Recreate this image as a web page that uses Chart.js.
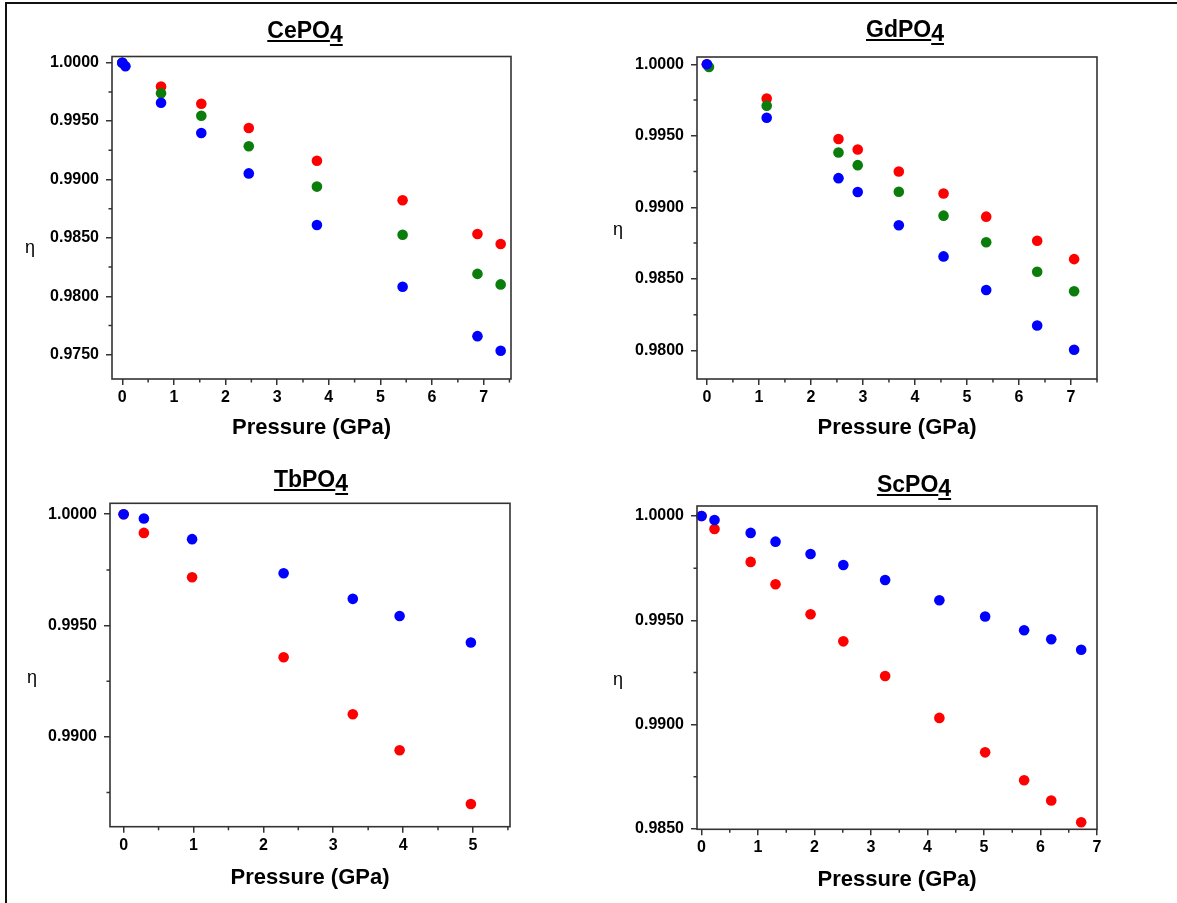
<!DOCTYPE html>
<html>
<head>
<meta charset="utf-8">
<script src="https://cdn.jsdelivr.net/npm/chart.js@4.4.1/dist/chart.umd.min.js"></script>
<style>
  body { margin: 0; background: #fff; width: 1177px; height: 903px; overflow: hidden; position: relative;
         font-family: "Liberation Sans", Arial, sans-serif; }
  .frame { position: absolute; left: 5px; top: 2px; right: -10px; bottom: -10px;
           border-top: 2px solid #111; border-left: 2px solid #111; }
  canvas { position: absolute; }
  .title { position: absolute; font-weight: bold; font-size: 23px; line-height: 1; white-space: nowrap;
           transform: translateX(-50%); color: #000; }
  .title span { text-decoration: underline; text-decoration-thickness: 2px; text-underline-offset: 2px; }
  .title .sub { position: relative; top: 4px; }
  .eta { position: absolute; font-size: 18px; transform: translate(-50%, -50%); color: #000; }
</style>
</head>
<body>
<div class="frame"></div>

<canvas id="ce" width="590" height="450" style="left:0;top:0"></canvas>
<canvas id="gd" width="587" height="450" style="left:590px;top:0"></canvas>
<canvas id="tb" width="590" height="453" style="left:0;top:450px"></canvas>
<canvas id="sc" width="587" height="453" style="left:590px;top:450px"></canvas>

<div class="title" style="left:305px;top:19px"><span>CePO</span><span class="sub">4</span></div>
<div class="title" style="left:905px;top:18px"><span>GdPO</span><span class="sub">4</span></div>
<div class="title" style="left:311px;top:468px"><span>TbPO</span><span class="sub">4</span></div>
<div class="title" style="left:914px;top:473px"><span>ScPO</span><span class="sub">4</span></div>

<div class="eta" style="left:30px;top:247px">η</div>
<div class="eta" style="left:618px;top:229px">η</div>
<div class="eta" style="left:32px;top:677px">η</div>
<div class="eta" style="left:618px;top:679px">η</div>

<script>
// CePO4
const cePressure = [0, 0.75, 1.53, 2.45, 3.77, 5.43, 6.88, 7.33];
const ceBluePressure = [0, 0.06, 0.75, 1.53, 2.45, 3.77, 5.43, 6.88, 7.33];
const ceRed   = [1.0000, 0.99796, 0.99648, 0.99441, 0.99160, 0.98822, 0.98533, 0.98448];
const ceGreen = [1.0000, 0.99739, 0.99546, 0.99285, 0.98939, 0.98527, 0.98192, 0.98102];
const ceBlue  = [1.0000, 0.99969, 0.99657, 0.99398, 0.99052, 0.98610, 0.98082, 0.97659, 0.97534];

// GdPO4
const gdPressure = [0, 1.15, 2.53, 2.90, 3.69, 4.55, 5.37, 6.35, 7.06];
const gdGreenPressure = [0.04, 1.15, 2.53, 2.90, 3.69, 4.55, 5.37, 6.35, 7.06];
const gdRed   = [1.0000, 0.99761, 0.99478, 0.99404, 0.99251, 0.99097, 0.98935, 0.98766, 0.98638];
const gdGreen = [0.99981, 0.99710, 0.99383, 0.99295, 0.99109, 0.98942, 0.98756, 0.98550, 0.98413];
const gdBlue  = [1.0000, 0.99626, 0.99204, 0.99107, 0.98875, 0.98657, 0.98422, 0.98174, 0.98005];

// TbPO4
const tbPressure = [0, 0.29, 0.98, 2.29, 3.28, 3.95, 4.97];
const tbRed  = [1.0000, 0.99916, 0.99717, 0.99358, 0.99102, 0.98940, 0.98699];
const tbBlue = [1.0000, 0.99981, 0.99888, 0.99735, 0.99620, 0.99543, 0.99424];

// ScPO4
const scPressure = [0, 0.23, 0.87, 1.31, 1.93, 2.51, 3.25, 4.21, 5.02, 5.71, 6.19, 6.72];
const scRed  = [1.0000, 0.99938, 0.99780, 0.99673, 0.99529, 0.99399, 0.99233, 0.99032, 0.98867, 0.98733, 0.98636, 0.98532];
const scBlue = [1.0000, 0.99981, 0.99919, 0.99877, 0.99818, 0.99765, 0.99693, 0.99596, 0.99518, 0.99452, 0.99409, 0.99359];

// tick labels
const xTicks7 = [0, 1, 2, 3, 4, 5, 6, 7];
const xMinor7 = [0.5, 1.5, 2.5, 3.5, 4.5, 5.5, 6.5, 7.5];
const xTicks5 = [0, 1, 2, 3, 4, 5];
const xMinor5 = [0.5, 1.5, 2.5, 3.5, 4.5, 5.5];
const ceYTicks = [0.975, 0.980, 0.985, 0.990, 0.995, 1.000];
const ceYMinor = [0.9775, 0.9825, 0.9875, 0.9925, 0.9975];
const gdYTicks = [0.980, 0.985, 0.990, 0.995, 1.000];
const gdYMinor = [0.9825, 0.9875, 0.9925, 0.9975];
const tbYTicks = [0.990, 0.995, 1.000];
const tbYMinor = [0.9875, 0.9925, 0.9975];
const scYTicks = [0.985, 0.990, 0.995, 1.000];
const scYMinor = [0.9875, 0.9925, 0.9975];

const RED = '#ff0000', GREEN = '#0b7d0b', BLUE = '#0000ff';
const AXIS = '#333333';
const FONT = '"Liberation Sans", Arial, sans-serif';

function pts(xs, ys) {
  return xs.map((x, i) => ({ x: x, y: ys[i] }));
}

function series(xs, ys, color) {
  return {
    data: pts(xs, ys),
    backgroundColor: color,
    pointBorderWidth: 0,
    pointRadius: 5.3,
    pointHoverRadius: 5.3,
    showLine: false,
    clip: false
  };
}

function makeChart(id, p) {
  const canvas = document.getElementById(id);
  // minor ticks and box around the plot
  const frame = {
    id: 'frame_' + id,
    afterDraw(chart) {
      const ctx = chart.ctx, a = chart.chartArea;
      const sx = chart.scales.x, sy = chart.scales.y;
      ctx.save();
      ctx.strokeStyle = AXIS;
      ctx.lineWidth = 1.5;
      ctx.beginPath();
      p.xMinor.forEach(v => {
        if (v > sx.max) return;
        const px = sx.getPixelForValue(v);
        ctx.moveTo(px, a.bottom);
        ctx.lineTo(px, a.bottom + 3.5);
      });
      p.yMinor.forEach(v => {
        const py = sy.getPixelForValue(v);
        ctx.moveTo(a.left, py);
        ctx.lineTo(a.left - 3.5, py);
      });
      ctx.stroke();
      ctx.lineWidth = 1.6;
      ctx.strokeRect(a.left, a.top, a.right - a.left, a.bottom - a.top);
      ctx.restore();
    }
  };

  new Chart(canvas, {
    type: 'scatter',
    data: { datasets: p.datasets },
    options: {
      responsive: false,
      animation: false,
      layout: { padding: { left: 0, right: canvas.width - p.right, top: p.top, bottom: 0 } },
      plugins: { legend: { display: false }, tooltip: { enabled: false } },
      scales: {
        x: {
          type: 'linear',
          min: p.xMin, max: p.xMax,
          afterBuildTicks: s => { s.ticks = p.xTicks.map(v => ({ value: v })); },
          afterFit: s => { s.height = canvas.height - p.bottom; },
          grid: { drawOnChartArea: false, drawTicks: true, tickLength: 6, color: AXIS, lineWidth: 1.5 },
          border: { display: false },
          ticks: {
            color: '#000', padding: 3, maxRotation: 0, autoSkip: false,
            font: { family: FONT, size: 16, weight: 'bold' },
            callback: v => v.toFixed(0)
          },
          title: {
            display: true, text: 'Pressure (GPa)', color: '#000',
            font: { family: FONT, size: 22, weight: 'bold' },
            padding: { top: 0, bottom: p.titlePad }
          }
        },
        y: {
          type: 'linear',
          min: p.yMin, max: p.yMax,
          afterBuildTicks: s => { s.ticks = p.yTicks.map(v => ({ value: v })); },
          afterFit: s => { s.width = p.left; },
          grid: { drawOnChartArea: false, drawTicks: true, tickLength: 6, color: AXIS, lineWidth: 1.5 },
          border: { display: false },
          ticks: {
            color: '#000', padding: 7, autoSkip: false,
            font: { family: FONT, size: 16, weight: 'bold' },
            callback: v => v.toFixed(4)
          }
        }
      }
    },
    plugins: [frame]
  });
}

makeChart('ce', {
  left: 112, right: 511, top: 56.5, bottom: 379, titlePad: 9,
  xMin: -0.2, xMax: 7.53, yMin: 0.97292, yMax: 1.00053,
  xTicks: xTicks7, xMinor: xMinor7, yTicks: ceYTicks, yMinor: ceYMinor,
  datasets: [
    series(ceBluePressure, ceBlue, BLUE),
    series(cePressure, ceGreen, GREEN),
    series(cePressure, ceRed, RED)
  ]
});

makeChart('gd', {
  left: 107, right: 507, top: 57, bottom: 379, titlePad: 9,
  xMin: -0.19, xMax: 7.5, yMin: 0.978, yMax: 1.00051,
  xTicks: xTicks7, xMinor: xMinor7, yTicks: gdYTicks, yMinor: gdYMinor,
  datasets: [
    series(gdPressure, gdBlue, BLUE),
    series(gdGreenPressure, gdGreen, GREEN),
    series(gdPressure, gdRed, RED)
  ]
});

makeChart('tb', {
  left: 110, right: 510, top: 53.3, bottom: 376.7, titlePad: 12,
  xMin: -0.195, xMax: 5.53, yMin: 0.98597, yMax: 1.00049,
  xTicks: xTicks5, xMinor: xMinor5, yTicks: tbYTicks, yMinor: tbYMinor,
  datasets: [
    series(tbPressure, tbBlue, BLUE),
    series(tbPressure, tbRed, RED)
  ]
});

makeChart('sc', {
  left: 107, right: 507, top: 56, bottom: 379.3, titlePad: 10,
  xMin: -0.08, xMax: 7.0, yMin: 0.98498, yMax: 1.00048,
  xTicks: xTicks7, xMinor: xMinor7, yTicks: scYTicks, yMinor: scYMinor,
  datasets: [
    series(scPressure, scBlue, BLUE),
    series(scPressure, scRed, RED)
  ]
});
</script>
</body>
</html>
